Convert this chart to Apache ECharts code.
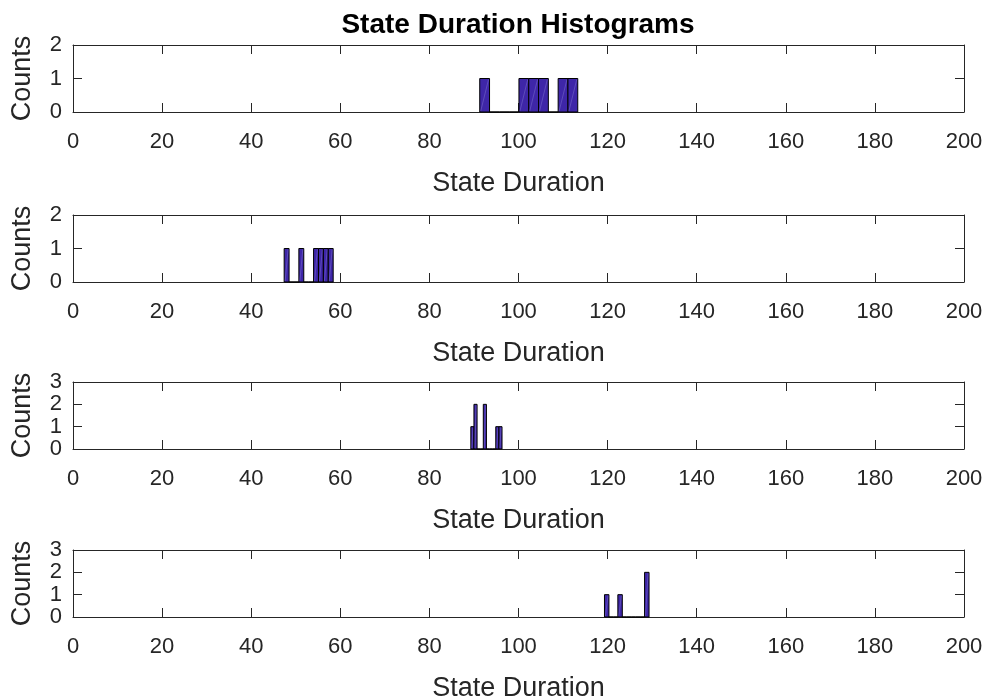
<!DOCTYPE html>
<html>
<head>
<meta charset="utf-8">
<script src="https://cdn.jsdelivr.net/npm/echarts@6/dist/echarts.min.js"></script>
<style>
  html, body { margin: 0; padding: 0; background: #fff; }
  #chart { width: 992px; height: 699px; }
</style>
</head>
<body>
<div id="chart"></div>
<script>
  // bin edges (11 each) and counts (10 each)
  var edges1 = [91.3, 93.5, 95.7, 97.9, 100.1, 102.3, 104.5, 106.7, 108.9, 111.1, 113.3];
  var counts1 = [1, 0, 0, 0, 1, 1, 1, 0, 1, 1];
  var edges2 = [47.4, 48.5, 49.6, 50.7, 51.8, 52.9, 54.0, 55.1, 56.2, 57.3, 58.4];
  var counts2 = [1, 0, 0, 1, 0, 0, 1, 1, 1, 1];
  var edges3 = [89.3, 90.0, 90.7, 91.4, 92.1, 92.8, 93.5, 94.2, 94.9, 95.6, 96.3];
  var counts3 = [1, 2, 0, 0, 2, 0, 0, 0, 1, 1];
  var edges4 = [119.3, 120.3, 121.3, 122.3, 123.3, 124.3, 125.3, 126.3, 127.3, 128.3, 129.3];
  var counts4 = [1, 0, 0, 1, 0, 0, 0, 0, 0, 2];
  var yMax = [2, 2, 3, 3];

  var panels = [[edges1, counts1], [edges2, counts2], [edges3, counts3], [edges4, counts4]];
  var tops = [45, 215, 382, 550];
  var font = '"Liberation Sans", Arial, Helvetica, sans-serif';
  var axisColor = '#262626';

  function renderBin(params, api) {
    var lo = api.value(0), hi = api.value(1), c = api.value(2);
    var a = api.coord([lo, 0]);
    var b = api.coord([hi, c]);
    var kids = [{
      type: 'rect',
      shape: { x: a[0], y: b[1], width: b[0] - a[0], height: a[1] - b[1] },
      style: { fill: '#3E26A8', stroke: '#000', lineWidth: 1 }
    }];
    if (c > 0) {
      // faint seam across the patch, as in the original render
      kids.push({
        type: 'line',
        shape: { x1: a[0] + 1, y1: a[1] - 1, x2: b[0] - 1, y2: b[1] + 1 },
        style: { stroke: 'rgba(130,120,210,0.45)', lineWidth: 1 }
      });
    }
    return { type: 'group', children: kids };
  }

  var grid = [], xAxis = [], yAxis = [], series = [];
  panels.forEach(function (p, i) {
    grid.push({ left: 73, right: 28, top: tops[i], height: 67, outerBoundsMode: 'none' });
    var line = { show: true, onZero: false, lineStyle: { color: axisColor, width: 1 } };
    var tick = { show: true, inside: true, length: 9, lineStyle: { color: axisColor } };
    xAxis.push({
      type: 'value', gridIndex: i, position: 'bottom', min: 0, max: 200, interval: 20,
      axisLine: line, axisTick: tick, splitLine: { show: false },
      axisLabel: { fontSize: 22, fontFamily: font, color: axisColor, margin: 19 },
      name: 'State Duration', nameLocation: 'middle', nameGap: 58, nameMoveOverlap: false,
      nameTextStyle: { fontSize: 27, fontFamily: font, color: axisColor }
    });
    xAxis.push({
      type: 'value', gridIndex: i, position: 'top', min: 0, max: 200, interval: 20,
      axisLine: line, axisTick: tick, splitLine: { show: false }, axisLabel: { show: false }
    });
    yAxis.push({
      type: 'value', gridIndex: i, position: 'left', min: 0, max: yMax[i], interval: 1,
      axisLine: line, axisTick: tick, splitLine: { show: false },
      axisLabel: { fontSize: 22, fontFamily: font, color: axisColor, margin: 11 },
      name: 'Counts', nameLocation: 'middle', nameGap: 37, nameMoveOverlap: false,
      nameTextStyle: { fontSize: 27, fontFamily: font, color: axisColor }
    });
    yAxis.push({
      type: 'value', gridIndex: i, position: 'right', min: 0, max: yMax[i], interval: 1,
      axisLine: line, axisTick: tick, splitLine: { show: false }, axisLabel: { show: false }
    });
    var edges = p[0], counts = p[1];
    series.push({
      type: 'custom',
      xAxisIndex: 2 * i, yAxisIndex: 2 * i,
      renderItem: renderBin,
      encode: { x: [0, 1], y: 2 },
      clip: false,
      data: counts.map(function (c, k) { return [edges[k], edges[k + 1], c]; })
    });
  });

  var chart = echarts.init(document.getElementById('chart'));
  chart.setOption({
    animation: false,
    backgroundColor: '#fff',
    title: {
      text: 'State Duration Histograms',
      left: 518, top: 11, padding: 0, textAlign: 'center',
      textStyle: { fontSize: 28, fontWeight: 'bold', fontFamily: font, color: '#000' }
    },
    grid: grid,
    xAxis: xAxis,
    yAxis: yAxis,
    series: series
  });
</script>
</body>
</html>
